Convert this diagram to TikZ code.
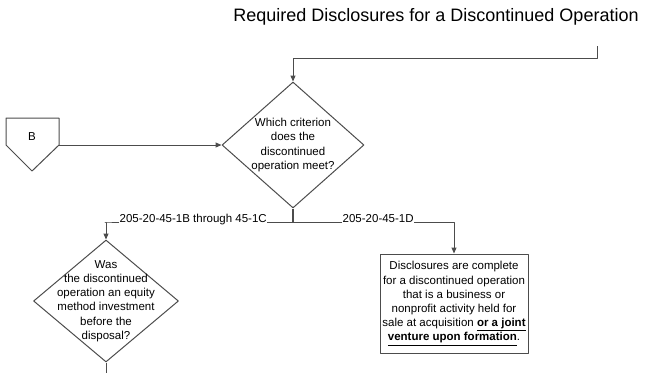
\documentclass[tikz,border=0pt]{standalone}
\usepackage{fontspec}
\setmainfont{Liberation Sans}
\usetikzlibrary{shapes.geometric,arrows.meta}
\begin{document}
\begin{tikzpicture}[x=1pt,y=-1pt,line join=round,>={Triangle[length=6pt,width=5pt]},
	every node/.style={font=\fontsize{11.5}{14.2}\selectfont,text=black},
	dia/.style={draw=black!70,line width=1pt,shape=diamond,inner sep=0pt},
	dtext/.style={align=center,inner sep=0pt},
	elabel/.style={inner sep=0.5pt,anchor=base west},
	box/.style={draw=black!70,line width=1pt,align=center,minimum width=148pt,minimum height=99pt,inner sep=0pt},
	conn/.style={draw=black!70,line width=1pt}]
	\useasboundingbox (0,0) rectangle (647,373);
	\node[font=\fontsize{18}{20}\selectfont] (title) at (436,17) {Required Disclosures for a Discontinued Operation};
	% off-page connector B
	\draw[conn] (6,118)--(59,118)--(59,145)--(32,171)--(6,145)--cycle;
	\node (offB) at (32,137) {B};
	\coordinate (bout) at (59,145);
	\coordinate (top) at (597,46);
	\node[dia,minimum width=142pt,minimum height=126pt,label={[dtext]center:Which criterion\\does the\\discontinued\\operation meet?}] (crit) at (293,145) {};
	\node[dia,minimum width=145pt,minimum height=122pt,label={[dtext]center:Was\\the discontinued\\operation an equity\\method investment\\before the\\disposal?}] (equity) at (106,301) {};
	\node[box] (done) at (454,303.5) {Disclosures are complete\\for a discontinued operation\\that is a business or\\nonprofit activity held for\\sale at acquisition \underline{\textbf{or a joint}}\\\underline{\textbf{venture upon formation}}.};
	\coordinate (split) at (293,222);
	\node[elabel] (lblB) at (119,222) {205-20-45-1B through 45-1C};
	\node[elabel] (lblD) at (342,222) {205-20-45-1D};
	\coordinate (cont) at (106,373);
	% connectors
	\draw[conn,->] (top)--++(0,12)-|(crit.north);
	\draw[conn,->] (bout)--(crit.west);
	\draw[conn,line width=1.8pt] (crit.south)--(split);
	\draw[conn] (split)--(lblB.base east);
	\draw[conn,->] (lblB.base west)--++(-14,0)-|(equity.north);
	\draw[conn] (split)--(lblD.base west);
	\draw[conn,->] (lblD.base east)-|(done.north);
	\draw[conn] (equity.south)--(cont);
\end{tikzpicture}
\end{document}
